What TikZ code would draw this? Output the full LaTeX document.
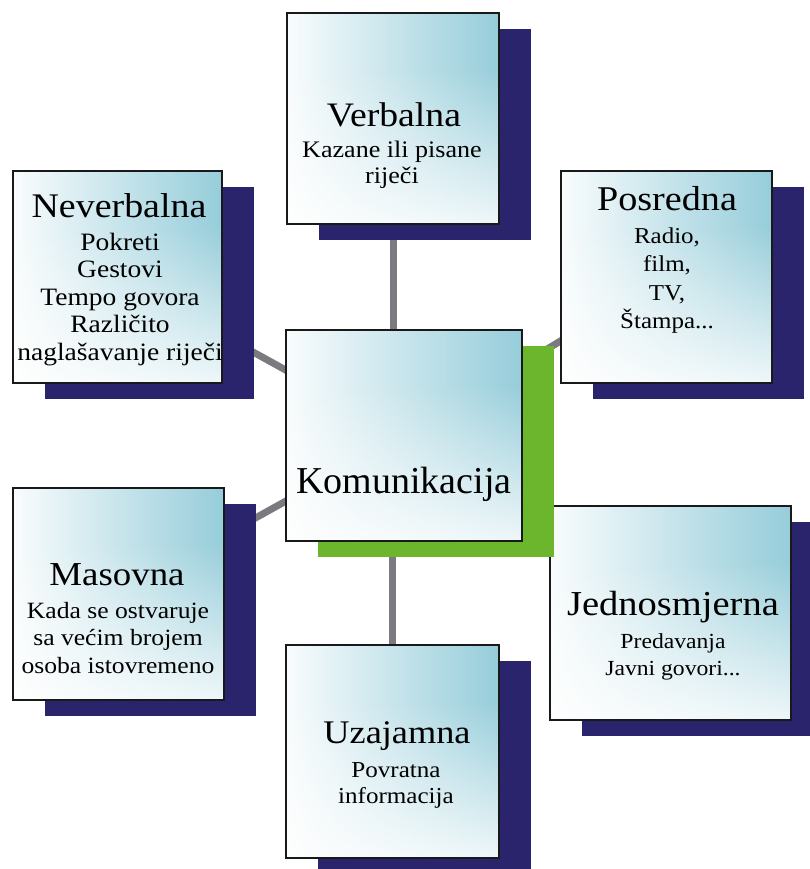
\documentclass[tikz,border=0pt]{standalone}
\usepackage{fontspec}
\setmainfont{Liberation Serif}[FakeStretch=1.1]
\newfontfamily\komfont{Liberation Serif}
\usetikzlibrary{fadings,shadows}
\definecolor{lb}{RGB}{150,205,218}
\definecolor{navy}{RGB}{41,36,108}
\definecolor{grn}{RGB}{108,182,45}
\definecolor{connc}{RGB}{122,122,128}
\pgfdeclarehorizontalshading{hblue}{100bp}{color(0bp)=(white); color(22bp)=(white); color(75bp)=(lb); color(100bp)=(lb)}
\pgfdeclareverticalshading{vfadeshade}{100bp}{color(0bp)=(white); color(18bp)=(white); color(62bp)=(black); color(100bp)=(black)}
\pgfdeclarefading{vfade}{\pgfuseshading{vfadeshade}}
\pgfdeclarelayer{bg}
\pgfsetlayers{bg,main}
\begin{document}
\begin{tikzpicture}[x=1pt,y=-1pt,
  cbox/.style={rectangle, draw=black!90, line width=1.8pt, inner sep=0pt,
    path picture={
      \shade[shading=hblue] (path picture bounding box.south west) rectangle (path picture bounding box.north east);
      \fill[white, path fading=vfade] (path picture bounding box.south west) rectangle (path picture bounding box.north east);
    }},
  navyshadow/.style={drop shadow={shadow xshift=32pt, shadow yshift=-16pt, fill=navy, opacity=1}},
  greenshadow/.style={drop shadow={shadow xshift=32pt, shadow yshift=-16pt, fill=grn, opacity=1}},
  hdtext/.style={inner sep=0pt, anchor=base, font=\fontsize{#1}{40}\selectfont},
  hdtext/.default=34.3,
  sbtext/.style 2 args={inner sep=0pt, anchor=north, align=center, font=\fontsize{#1}{#2}\selectfont},
  cline/.style={draw=connc, line width=7pt}]
\useasboundingbox (0,0) rectangle (809,869);

% outer boxes
\node[cbox, navyshadow, minimum width=212, minimum height=211] (verb) at (393,118.5) {};
\node[cbox, navyshadow, minimum width=209, minimum height=212] (never) at (117.5,277) {};
\node[cbox, navyshadow, minimum width=211, minimum height=212] (posr) at (666.5,277) {};
\node[cbox, navyshadow, minimum width=211, minimum height=212] (mas) at (118.5,594) {};
\node[cbox, navyshadow, minimum width=241, minimum height=214] (jed) at (670.5,613) {};
\node[cbox, navyshadow, minimum width=213, minimum height=213] (uza) at (392.5,751.5) {};
% central box
\node[cbox, greenshadow, minimum width=236, minimum height=211] (kom) at (404,435.5) {};

% connectors
\begin{pgfonlayer}{bg}
\draw[cline] (verb.center) -- (verb.center |- kom.center);
\draw[cline] (uza.center) -- (uza.center |- kom.center);
\draw[cline] (never.center) -- (kom.center);
\draw[cline] (posr.center) -- (kom.center);
\draw[cline] (mas.center) -- (kom.center);
\draw[cline] (jed.center) -- (kom.center);
\end{pgfonlayer}

% texts
\node[hdtext] (verbh) at (394,126.5) {Verbalna};
\node[sbtext={23.7}{26}] (verbs) at (392,140.8) {Kazane ili pisane\\riječi};

\node[hdtext=34.5] (neverh) at (119,217) {Neverbalna};
\node[sbtext={25}{27.5}] (nevers) at (120,232.9) {Pokreti\\Gestovi\\Tempo govora\\Različito\\naglašavanje riječi};

\node[hdtext=34.7] (posrh) at (667,210) {Posredna};
\node[sbtext={22.7}{28.5}] (posrs) at (667,227.5) {Radio,\\film,\\TV,\\Štampa...};

\node[hdtext, font=\komfont\fontsize{38}{44}\selectfont] (komh) at (404,493) {Komunikacija};

\node[hdtext=35] (jedh) at (673,615) {Jednosmjerna};
\node[sbtext={21.5}{27}] (jeds) at (673,633.3) {Predavanja\\Javni govori...};

\node[hdtext=33] (uzah) at (397,743) {Uzajamna};
\node[sbtext={22.8}{26.5}] (uzas) at (396,762) {Povratna\\informacija};

\node[hdtext=33.5] (mash) at (117,585) {Masovna};
\node[sbtext={23.3}{27.5}] (mass) at (118,602) {Kada se ostvaruje\\sa većim brojem\\osoba istovremeno};
\end{tikzpicture}
\end{document}
